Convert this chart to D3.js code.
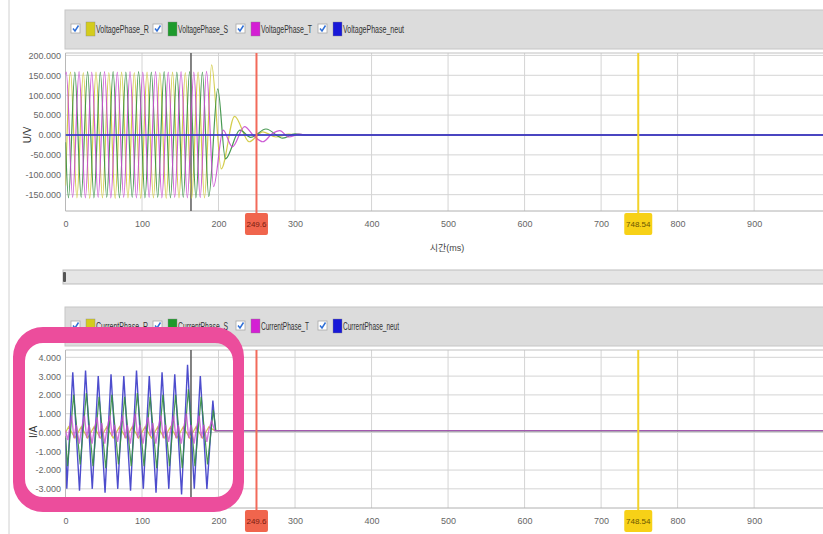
<!DOCTYPE html>
<html lang="ko">
<head>
<meta charset="UTF-8">
<title>Voltage / Current</title>
<script src="https://d3js.org/d3.v7.min.js"></script>
<style>
  body { margin: 0; background: #fff; }
  svg { display: block; font-family: "Liberation Sans Narrow", "Liberation Sans", "Noto Sans CJK KR", sans-serif; }
</style>
</head>
<body>
<svg id="chart" width="823" height="534"></svg>
<script>
// ---- data ----
const timeTicks = [0, 100, 200, 300, 400, 500, 600, 700, 800, 900];
const voltageTicks = [200000, 150000, 100000, 50000, 0, -50000, -100000, -150000];
const voltageTickLabels = ["200.000", "150.000", "100.000", "50.000", "0.000", "-50.000", "-100.000", "-150.000"];
const currentTicks = [4, 3, 2, 1, 0, -1, -2, -3];
const currentTickLabels = ["4.000", "3.000", "2.000", "1.000", "0.000", "-1.000", "-2.000", "-3.000"];
const voltageNames = ["VoltagePhase_R", "VoltagePhase_S", "VoltagePhase_T", "VoltagePhase_neut"];
const currentNames = ["CurrentPhase_R", "CurrentPhase_S", "CurrentPhase_T", "CurrentPhase_neut"];
const legendColors = ["#d4cc1c", "#1e9a2c", "#d41fd4", "#1818d8"];
const lineColors = ["#cfc83a", "#358f40", "#c84ad0", "#3a3ac8"];
const markerRed = 249.6;
const markerYellow = 748.54;
const cursorTime = 164;

// voltage [time ms, value]
const voltageR = [[0,-127000],[6.6,158000],[14.9,-158000],[23.3,157000],[31.6,-159000],[39.9,158000],[48.3,-158000],[56.6,157000],[64.9,-159000],[73.3,158000],[81.6,-158000],[89.9,157000],[98.3,-159000],[106.6,158000],[114.9,-158000],[123.3,157000],[131.6,-159000],[139.9,158000],[148.3,-158000],[156.6,157000],[164.9,-159000],[173.3,158000],[181.6,-158000],[191.0,176000],[203.5,-85000],[221,47000],[240,-17000],[258,8000],[275,-5000],[292,2000],[305,0],[990,0]];
const voltageS = [[0,-18000],[3.9,-158000],[12.2,158000],[20.5,-157000],[28.9,159000],[37.2,-158000],[45.5,158000],[53.9,-157000],[62.2,159000],[70.5,-158000],[78.9,158000],[87.2,-157000],[95.5,159000],[103.9,-158000],[112.2,158000],[120.5,-157000],[128.9,159000],[137.2,-158000],[145.5,158000],[153.9,-157000],[162.2,159000],[170.5,-158000],[178.9,158000],[187.2,-155000],[199,116000],[209,-60000],[228,12000],[242,-6000],[262,15000],[284,-8000],[300,3000],[315,0],[990,0]];
const voltageT = [[0,152000],[1.0,158000],[9.3,-157000],[17.7,159000],[26.0,-158000],[34.3,158000],[42.7,-157000],[51.0,159000],[59.3,-158000],[67.7,158000],[76.0,-157000],[84.3,159000],[92.7,-158000],[101.0,158000],[109.3,-157000],[117.7,159000],[126.0,-158000],[134.3,158000],[142.7,-157000],[151.0,159000],[159.3,-158000],[167.7,158000],[176.0,-157000],[184.3,160000],[193.5,-130000],[206,12000],[218,-30000],[234,21000],[246,-2000],[258,-17000],[270,3000],[280,11000],[292,-5000],[305,2000],[315,0],[990,0]];
const voltageNeut = [[0,0],[990,0]];

// current [time ms, value]
const currentR = [[0,0],[4,0.3],[12.3,-0.3],[20.6,0.3],[29,-0.3],[37.3,0.3],[45.6,-0.3],[54,0.3],[62.3,-0.3],[70.6,0.3],[79,-0.3],[87.3,0.3],[95.6,-0.3],[104,0.3],[112.3,-0.3],[120.6,0.3],[129,-0.3],[137.3,0.3],[145.6,-0.3],[154,0.3],[162.3,-0.3],[170.6,0.3],[179,-0.3],[187.3,0.3],[195,0.1],[990,0.1]];
const currentS = [[0,-0.2],[2.6,-1.8],[10.6,2.0],[19.2,-1.7],[27.3,2.1],[35.9,-1.8],[43.9,1.9],[52.6,-1.9],[60.6,2.0],[69.2,-1.7],[77.3,1.9],[85.9,-1.8],[93.9,2.1],[102.6,-1.8],[110.6,1.9],[119.2,-1.9],[127.3,2.0],[135.9,-1.8],[143.9,2.0],[152.6,-1.9],[160.6,2.3],[169.2,-1.8],[177.3,1.9],[185.6,-1.7],[193.2,1.2],[196.5,0.1],[990,0.1]];
const currentT = [[0,0.1],[3,-0.4],[8.0,0.9],[11.0,-0.3],[14.0,0.4],[18.0,-0.6],[21.0,0.2],[24.7,0.9],[27.7,-0.3],[30.7,0.4],[34.7,-0.6],[37.7,0.2],[41.3,0.8],[44.3,-0.3],[47.3,0.5],[51.3,-0.6],[54.3,0.2],[58.0,0.9],[61.0,-0.2],[64.0,0.4],[68.0,-0.5],[71.0,0.2],[74.7,0.9],[77.7,-0.3],[80.7,0.4],[84.7,-0.6],[87.7,0.3],[91.3,1.0],[94.3,-0.3],[97.3,0.4],[101.3,-0.6],[104.3,0.2],[108.0,0.8],[111.0,-0.2],[114.0,0.5],[118.0,-0.6],[121.0,0.2],[124.7,0.9],[127.7,-0.3],[130.7,0.4],[134.7,-0.5],[137.7,0.2],[141.3,0.9],[144.3,-0.3],[147.3,0.4],[151.3,-0.6],[154.3,0.2],[158.0,1.0],[161.0,-0.3],[164.0,0.4],[168.0,-0.6],[171.0,0.2],[174.7,0.9],[177.7,-0.3],[180.7,0.4],[184.7,-0.5],[187.7,0.2],[191,0.6],[195,0.1],[990,0.1]];
const currentNeut = [[0,-0.3],[1.7,-3.0],[9.5,3.2],[18.3,-3.1],[26.2,3.3],[35.0,-3.0],[42.8,3.0],[51.7,-3.2],[59.5,3.1],[68.3,-3.0],[76.2,3.0],[85.0,-3.1],[92.8,3.3],[101.7,-3.0],[109.5,3.0],[118.3,-3.2],[126.2,3.2],[135.0,-3.0],[142.8,3.1],[151.7,-3.3],[159.5,3.6],[168.3,-3.0],[176.2,3.0],[184.8,-3.0],[192.6,1.7],[196.0,0.1],[990,0.1]];

// ---- layout ----
const W = 823, H = 534;
const plotLeft = 65.5;
const svg = d3.select("#chart");

const x = d3.scaleLinear().domain([0, 990]).range([plotLeft, W]);

// page frame line on the left
svg.append("line").attr("x1", 9).attr("x2", 9).attr("y1", 0).attr("y2", H)
  .attr("stroke", "#d0d0d0");

function drawPanel(top, cfg) {
  const g = svg.append("g");
  const y = d3.scaleLinear().domain(cfg.domain).range([top + 211, top + 53]);

  // legend strip
  g.append("rect").attr("x", 65).attr("y", top + 10).attr("width", W - 64).attr("height", 39)
    .attr("fill", "#dcdcdc").attr("stroke", "#c6c6c6");
  const itemX = [71, 153, 236, 318];
  cfg.names.forEach((name, i) => {
    const cx = itemX[i];
    g.append("rect").attr("x", cx).attr("y", top + 24).attr("width", 9).attr("height", 9)
      .attr("fill", "#fff").attr("stroke", "#a8a8a8").attr("stroke-width", 0.8);
    g.append("path")
      .attr("d", `M${cx + 2},${top + 28.5} L${cx + 4},${top + 31} L${cx + 7.5},${top + 25.5}`)
      .attr("fill", "none").attr("stroke", "#2f6fd6").attr("stroke-width", 1.5);
    g.append("rect").attr("x", cx + 15).attr("y", top + 22).attr("width", 9).attr("height", 14)
      .attr("fill", legendColors[i]).attr("stroke", "#888").attr("stroke-width", 0.4);
    g.append("text").attr("x", cx + 25).attr("y", top + 33)
      .attr("font-size", 10).attr("fill", "#333")
      .attr("textLength", cfg.textLengths[i]).attr("lengthAdjust", "spacingAndGlyphs")
      .text(name);
  });

  // grid
  g.selectAll(null).data(cfg.ticks).join("line")
    .attr("x1", plotLeft).attr("x2", W)
    .attr("y1", d => y(d)).attr("y2", d => y(d))
    .attr("stroke", "#d4d4d4");
  g.selectAll(null).data(timeTicks).join("line")
    .attr("x1", d => x(d)).attr("x2", d => x(d))
    .attr("y1", top + 53).attr("y2", top + 211)
    .attr("stroke", "#d4d4d4");
  g.append("line").attr("x1", plotLeft).attr("x2", W).attr("y1", top + 53).attr("y2", top + 53).attr("stroke", "#c0c0c0");
  g.append("line").attr("x1", plotLeft).attr("x2", W).attr("y1", top + 211).attr("y2", top + 211).attr("stroke", "#b0b0b0");
  g.append("line").attr("x1", plotLeft).attr("x2", plotLeft).attr("y1", top + 53).attr("y2", top + 211).attr("stroke", "#b8b8b8");

  // cursor line
  g.append("line").attr("x1", x(cursorTime)).attr("x2", x(cursorTime))
    .attr("y1", top + 53).attr("y2", top + 211)
    .attr("stroke", "#5a5a5a").attr("stroke-width", 1.5);

  // series
  const clipId = "clip" + top;
  svg.append("clipPath").attr("id", clipId).append("rect")
    .attr("x", plotLeft).attr("y", top + 53).attr("width", W - plotLeft).attr("height", 158);
  const line = d3.line().x(d => x(d[0])).y(d => y(d[1])).curve(cfg.curve);
  const lines = g.append("g").attr("clip-path", `url(#${clipId})`);
  cfg.series.forEach(s => {
    lines.append("path").datum(s.data)
      .attr("d", line)
      .attr("fill", "none")
      .attr("stroke", lineColors[s.color])
      .attr("stroke-width", s.width)
      .attr("stroke-opacity", s.opacity);
  });

  // x axis labels
  const xAxis = g.append("g").attr("transform", `translate(0,${top + 218})`)
    .call(d3.axisBottom(x).tickValues(timeTicks).tickSize(0).tickPadding(3).tickFormat(d3.format("d")));
  xAxis.select(".domain").remove();
  xAxis.selectAll("text").attr("font-size", 9).attr("fill", "#666").attr("font-family", null);

  // y axis labels
  const yAxis = g.append("g").attr("transform", "translate(62,0)")
    .call(d3.axisLeft(y).tickValues(cfg.ticks).tickSize(0).tickPadding(1)
      .tickFormat((d, i) => cfg.tickLabels[i]));
  yAxis.select(".domain").remove();
  yAxis.selectAll("text").attr("font-size", 9).attr("fill", "#666").attr("font-family", null);

  // y title
  g.append("text").attr("transform", `translate(${cfg.titleX},${top + 135}) rotate(-90)`)
    .attr("text-anchor", "middle").attr("font-size", 10).attr("fill", "#333")
    .text(cfg.title);

  // markers
  const markers = [
    { t: markerRed, label: "249.6", line: "#f26a5a", fill: "#f0654d", text: "#7a1c10", w: 23 },
    { t: markerYellow, label: "748.54", line: "#f2d22a", fill: "#f7d117", text: "#6a5600", w: 28 }
  ];
  markers.forEach(m => {
    g.append("line").attr("x1", x(m.t)).attr("x2", x(m.t))
      .attr("y1", top + 53).attr("y2", top + 214)
      .attr("stroke", m.line).attr("stroke-width", 2);
    g.append("rect").attr("x", x(m.t) - m.w / 2).attr("y", top + 213)
      .attr("width", m.w).attr("height", 22).attr("rx", 2)
      .attr("fill", m.fill);
    g.append("text").attr("x", x(m.t)).attr("y", top + 227)
      .attr("text-anchor", "middle").attr("font-size", 8).attr("fill", m.text)
      .text(m.label);
  });
}

drawPanel(0, {
  domain: [-191000, 206000],
  ticks: voltageTicks,
  tickLabels: voltageTickLabels,
  names: voltageNames,
  textLengths: [53, 50, 51, 61],
  title: "U/V",
  titleX: 31,
  curve: d3.curveMonotoneX,
  series: [
    { data: voltageR, color: 0, width: 1.2, opacity: 0.9 },
    { data: voltageS, color: 1, width: 1.2, opacity: 0.9 },
    { data: voltageT, color: 2, width: 1.2, opacity: 0.9 },
    { data: voltageNeut, color: 3, width: 2, opacity: 0.85 }
  ]
});

drawPanel(297, {
  domain: [-4.02, 4.39],
  ticks: currentTicks,
  tickLabels: currentTickLabels,
  names: currentNames,
  textLengths: [52, 50, 48, 56],
  title: "I/A",
  titleX: 37,
  curve: d3.curveLinear,
  series: [
    { data: currentR, color: 0, width: 1.2, opacity: 0.9 },
    { data: currentNeut, color: 3, width: 1.4, opacity: 0.9 },
    { data: currentS, color: 1, width: 1.2, opacity: 0.9 },
    { data: currentT, color: 2, width: 1.4, opacity: 0.75 }
  ]
});

// x axis title (top chart)
svg.append("text").attr("x", 447).attr("y", 251).attr("text-anchor", "middle")
  .attr("font-size", 9).attr("fill", "#444").text("시간(ms)");

// scroll bar between the charts
svg.append("rect").attr("x", 63).attr("y", 270).attr("width", W - 62).attr("height", 14)
  .attr("fill", "#e6e6e6").attr("stroke", "#bdbdbd");
svg.append("rect").attr("x", 63).attr("y", 272).attr("width", 3).attr("height", 10)
  .attr("fill", "#555").attr("rx", 1);

// pink highlight frame (outer and inner rounded outlines, even-odd fill)
const frame = d3.path();
function roundRect(p, x0, y0, x1, y1, r) {
  p.moveTo(x0 + r, y0);
  p.lineTo(x1 - r, y0); p.arcTo(x1, y0, x1, y0 + r, r);
  p.lineTo(x1, y1 - r); p.arcTo(x1, y1, x1 - r, y1, r);
  p.lineTo(x0 + r, y1); p.arcTo(x0, y1, x0, y1 - r, r);
  p.lineTo(x0, y0 + r); p.arcTo(x0, y0, x0 + r, y0, r);
  p.closePath();
}
roundRect(frame, 13, 327, 244, 512, 30);
roundRect(frame, 25, 343, 233, 497, 18);
svg.append("path").attr("d", frame.toString())
  .attr("fill", "#ec4d9c").attr("fill-rule", "evenodd");
</script>
</body>
</html>
